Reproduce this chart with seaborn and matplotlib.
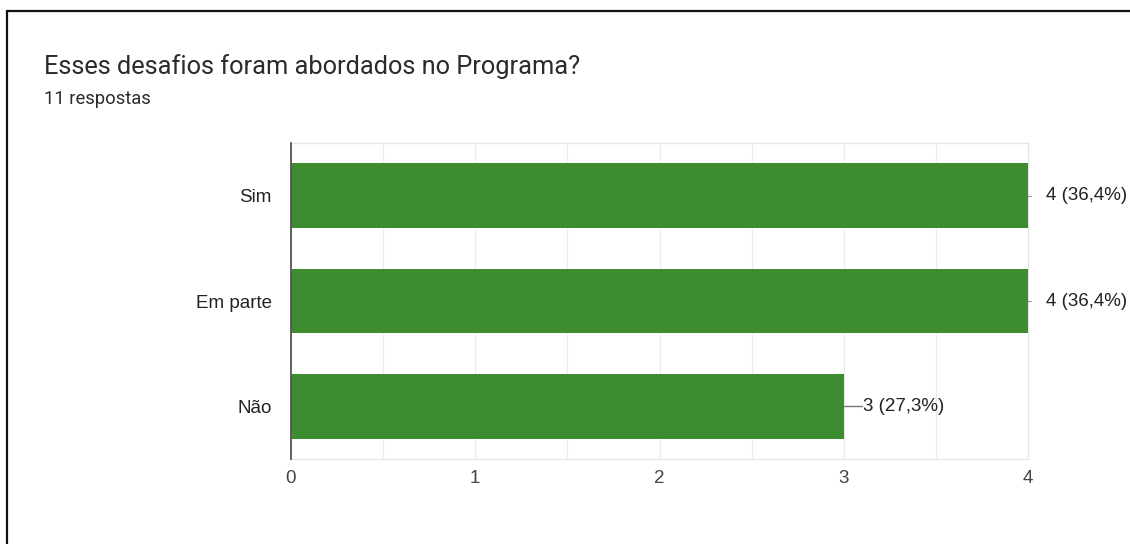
import matplotlib
matplotlib.use("Agg")
import matplotlib.pyplot as plt
from matplotlib.lines import Line2D
import seaborn as sns
import pandas as pd

categories = ["Sim", "Em parte", "Não"]
counts = [4, 4, 3]
labels = ["4 (36,4%)", "4 (36,4%)", "3 (27,3%)"]
x_ticks = [0, 1, 2, 3, 4]
title = "Esses desafios foram abordados no Programa?"
subtitle = "11 respostas"

df = pd.DataFrame({"cat": categories, "n": counts})

sns.set_theme(style="white")
plt.rcParams["font.family"] = ["Liberation Sans", "DejaVu Sans"]

W, H = 1130, 544
fig = plt.figure(figsize=(W / 100, H / 100), dpi=100)
ax = fig.add_axes([291 / W, 1 - 459 / H, (1028 - 291) / W, (459 - 143) / H])

green = "#3d8c2f"
sns.barplot(data=df, y="cat", x="n", orient="h", color=green, width=0.615,
            saturation=1, ax=ax, edgecolor="none", zorder=3)

ax.set_xlim(0, 4)
ax.set_ylim(2.5, -0.5)
ax.set_xticks(x_ticks)
ax.set_xticklabels([str(t) for t in x_ticks])
for v in [0.5, 1, 1.5, 2, 2.5, 3, 3.5]:
    ax.axvline(v, color="#ececec", lw=1.0, zorder=1)
ax.set_xlabel("")
ax.set_ylabel("")
for s in ["top", "right", "bottom"]:
    ax.spines[s].set_visible(True)
    ax.spines[s].set_color("#e6e6e6")
    ax.spines[s].set_linewidth(1.0)
ax.spines["left"].set_color("#555555")
ax.spines["left"].set_linewidth(1.3)
ax.spines["left"].set_zorder(5)
ax.tick_params(axis="both", length=0, labelsize=13.5, labelcolor="#222222")
ax.tick_params(axis="y", pad=14)
ax.tick_params(axis="x", pad=8, labelcolor="#444444")

maxv = max(counts)
for i, (c, lab) in enumerate(zip(counts, labels)):
    if c < maxv:
        ax.plot([c, c + 0.1], [i, i], color="#777777", lw=1.0, zorder=4, clip_on=False)
        ax.text(c + 0.102, i, lab, va="center", ha="left", fontsize=13.5, color="#222222")
    else:
        ax.plot([c, c + 0.017], [i, i], color="#999999", lw=0.8, zorder=4, clip_on=False)
        ax.text(c + 0.1, i, lab, va="center", ha="left", fontsize=13.5, color="#222222")

fig.text(44 / W, 1 - 67 / H, title, fontsize=18.3, family=["Roboto", "DejaVu Sans"],
         color="#2b2b2b", va="center", ha="left")
fig.text(44 / W, 1 - 99 / H, subtitle, fontsize=13.2, family=["Roboto", "DejaVu Sans"],
         color="#2b2b2b", va="center", ha="left")

# page frame
fig.add_artist(Line2D([7 / W, 1], [1 - 11 / H, 1 - 11 / H], color="#111111", lw=1.6,
                      transform=fig.transFigure))
fig.add_artist(Line2D([7 / W, 7 / W], [0, 1 - 11 / H], color="#111111", lw=1.6,
                      transform=fig.transFigure))

fig.savefig("out.png", dpi=100)
